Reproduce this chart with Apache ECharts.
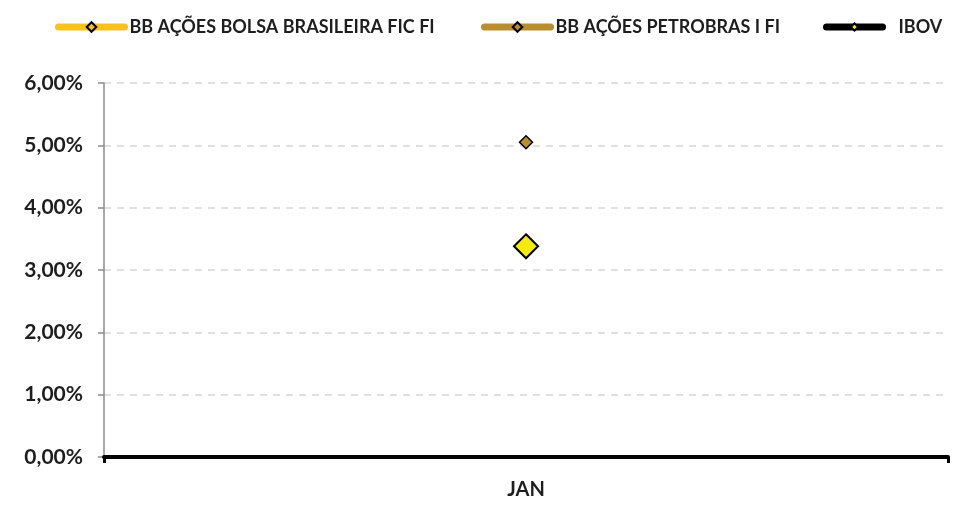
<!DOCTYPE html>
<html>
<head>
<meta charset="utf-8">
<script src="https://cdn.jsdelivr.net/npm/echarts@6/dist/echarts.min.js"></script>
<style>html,body{margin:0;padding:0;background:#fff}#c{width:954px;height:506px}</style>
</head>
<body>
<div id="c"></div>
<script>
const categories = ['JAN'];
const seriesNames = ['BB AÇÕES BOLSA BRASILEIRA FIC FI', 'BB AÇÕES PETROBRAS I FI', 'IBOV'];
const bolsaValues = [3.37];
const petrobrasValues = [5.05];
const ibovValues = [3.38];
const yTicks = [0, 1, 2, 3, 4, 5, 6];

const FONT = 'Lato';
const chart = echarts.init(document.getElementById('c'));
const fmt = v => v.toFixed(2).replace('.', ',') + '%';
const legendText = {fontFamily: FONT, fontWeight: 'bold', fontSize: 18, color: '#1e1e1e'};
function legend(name, left, w, h, padLeft) {
  return {
    data: [name], left: left, top: 18, itemWidth: w, itemHeight: h, padding: 0,
    textStyle: Object.assign({}, legendText, {padding: [0, 0, 0, padLeft]}),
    lineStyle: {width: 7, cap: 'round'},
    selectedMode: false
  };
}
chart.setOption({
  animation: false,
  legend: [
    legend(seriesNames[0], 55, 66, 12, 0),
    legend(seriesNames[1], 481, 66, 12, 0),
    legend(seriesNames[2], 823, 56, 9, 11)
  ],
  grid: {left: 104, right: 6, top: 83, bottom: 49, containLabel: false},
  xAxis: {
    type: 'category', data: categories, boundaryGap: true,
    axisLine: {show: true, lineStyle: {color: '#000', width: 4}},
    axisTick: {show: true, length: 6, lineStyle: {color: '#000', width: 3}},
    axisLabel: {fontFamily: FONT, fontWeight: 'bold', fontSize: 20, color: '#1e1e1e', margin: 23},
    z: 5
  },
  yAxis: {
    type: 'value', min: yTicks[0], max: yTicks[yTicks.length - 1], interval: 1,
    axisLine: {show: true, lineStyle: {color: '#8c8c8c', width: 1.5}},
    axisTick: {show: true, length: 6, lineStyle: {color: '#8c8c8c', width: 1.5}},
    splitLine: {show: true, lineStyle: {color: '#d6d6d6', type: [7, 6], width: 1.5}},
    axisLabel: {formatter: fmt, fontFamily: FONT, fontWeight: 'bold', fontSize: 21, color: '#1e1e1e', margin: 21}
  },
  series: [
    {
      name: seriesNames[0], type: 'line', data: bolsaValues,
      symbol: 'diamond', symbolSize: 12,
      lineStyle: {color: '#F9C21A', width: 7, cap: 'round'},
      itemStyle: {color: '#F9C21A', borderColor: '#000', borderWidth: 1.5}
    },
    {
      name: seriesNames[1], type: 'line', data: petrobrasValues,
      symbol: 'diamond', symbolSize: 13,
      lineStyle: {color: '#B98E2F', width: 7, cap: 'round'},
      itemStyle: {color: '#B98E2F', borderColor: '#000', borderWidth: 1.5}
    },
    {
      name: seriesNames[2], type: 'line', data: ibovValues,
      symbol: 'diamond', symbolSize: 24,
      lineStyle: {color: '#000', width: 7, cap: 'round'},
      itemStyle: {color: '#F5EA0A', borderColor: '#000', borderWidth: 2}
    }
  ]
});
</script>
</body>
</html>
